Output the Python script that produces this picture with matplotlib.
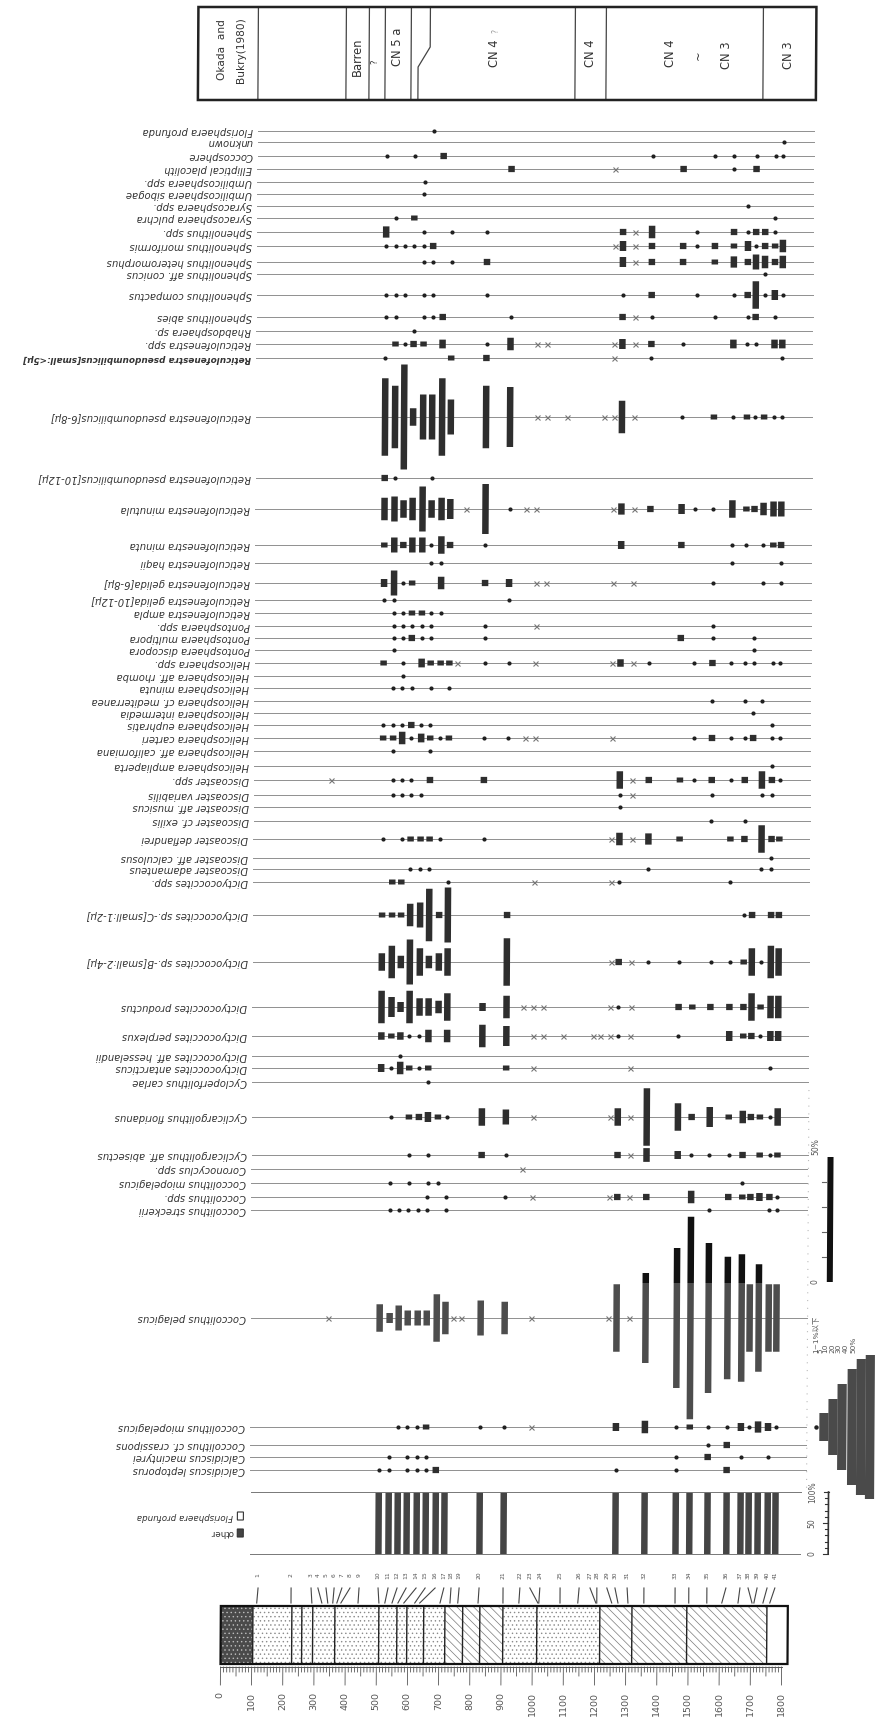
import numpy as np
import matplotlib
matplotlib.use("Agg")
import matplotlib.pyplot as plt
from matplotlib.patches import Rectangle
from matplotlib.transforms import Affine2D

# ------------------------------------------------------------------ data
sample_ids = list(range(1, 42))
# plotting position of every sample column (m, as spread out on the chart)
sample_pos_m = [119, 225, 289, 311, 337, 363, 388, 414, 443, 504,
                536, 565, 594, 626, 655, 687, 715, 738, 764, 828,
                905, 959, 991, 1023, 1088, 1149, 1184, 1206, 1238, 1264,
                1303, 1357, 1457, 1501, 1559, 1620, 1665, 1691, 1720, 1752, 1777]
# true depth of every sample in the core (m)
sample_depth_m = [115, 225, 292, 324, 343, 359, 372, 385, 440, 507,
                  526, 549, 568, 587, 622, 638, 703, 735, 760, 825,
                  905, 956, 1017, 1020, 1088, 1145, 1203, 1206, 1254, 1274,
                  1306, 1357, 1457, 1501, 1559, 1607, 1659, 1704, 1710, 1739, 1761]

species = [
    "Florisphaera profunda", "unknown", "Coccosphere", "Elliptical placolith",
    "Umbilicosphaera spp.", "Umbilicosphaera sibogae", "Syracosphaera spp.",
    "Syracosphaera pulchra", "Sphenolithus spp.", "Sphenolithus moriformis",
    "Sphenolithus heteromorphus", "Sphenolithus aff. conicus", "Sphenolithus compactus",
    "Sphenolithus abies", "Rhabdosphaera sp.", "Reticulofenestra spp.",
    "Reticulofenestra pseudoumbilicus[small:<5μ]", "Reticulofenestra pseudoumbilicus[6-8μ]",
    "Reticulofenestra pseudoumbilicus[10-12μ]", "Reticulofenestra minutula",
    "Reticulofenestra minuta", "Reticulofenestra haqii", "Reticulofenestra gelida[6-8μ]",
    "Reticulofenestra gelida[10-12μ]", "Reticulofenestra ampla", "Pontosphaera spp.",
    "Pontosphaera multipora", "Pontosphaera discopora", "Helicosphaera spp.",
    "Helicosphaera aff. rhomba", "Helicosphaera minuta", "Helicosphaera cf. mediterranea",
    "Helicosphaera intermedia", "Helicosphaera euphratis", "Helicosphaera carteri",
    "Helicosphaera aff. californiana", "Helicosphaera ampliaperta", "Discoaster spp.",
    "Discoaster variabilis", "Discoaster aff. musicus", "Discoaster cf. exilis",
    "Discoaster deflandrei", "Discoaster aff. calculosus", "Discoaster adamanteus",
    "Dictyococcites spp.", "Dictyococcites sp.-C[small:1-2μ]", "Dictyococcites sp.-B[small:2-4μ]",
    "Dictyococcites productus", "Dictyococcites perplexus", "Dictyococcites aff. hesselandii",
    "Dictyococcites antarcticus", "Cycloperfolithus carlae", "Cyclicargolithus floridanus",
    "Cyclicargolithus aff. abisectus", "Coronocyclus spp.", "Coccolithus miopelagicus",
    "Coccolithus spp.", "Coccolithus streckerii", "Coccolithus pelagicus",
    "Coccolithus miopelagicus", "Coccolithus cf. crassipons", "Calcidiscus macintyrei",
    "Calcidiscus leptoporus",
]
bold_species = {"Reticulofenestra pseudoumbilicus[small:<5μ]"}

# occurrences  sample:abundance   x = questionable / reworked, d = <=1 %, number = %
occurrences = [
    "15:d",
    "41:d",
    "10:d 13:d 16:2.5 32:d 35:d 36:d 38:d 40:d 41:d",
    "21:2.5 29:x 33:2.5 36:d 38:2.5",
    "14:d",
    "14:d",
    "37:d",
    "11:d 13:2 40:d",
    "10:4.5 14:d 17:d 20:d 30:2.5 31:x 32:5 34:d 36:2.5 37:d 38:2.5 39:2.5 40:d",
    "10:d 11:d 12:d 13:d 14:d 15:2.5 29:x 30:4 31:x 32:2.5 33:2.5 34:d 35:2.5 36:2 37:4 38:d 39:2.5 40:2 41:5",
    "14:d 15:d 17:d 20:2.5 30:4 31:x 32:2.5 33:2.5 35:2 36:4.5 37:2.5 38:6 39:5 40:2.5 41:5",
    "39:d",
    "10:d 11:d 12:d 14:d 15:d 20:d 30:d 32:2.5 34:d 36:d 37:2.5 38:11 39:d 40:4 41:d",
    "10:d 11:d 14:d 15:d 16:2.5 21:d 30:2.5 31:x 32:d 35:d 37:d 38:2.5 40:d",
    "13:d",
    "11:2 12:d 13:2.5 14:2 16:3.5 20:d 21:5 23:x 24:x 29:x 30:4 31:x 32:2.5 33:d 36:3.5 37:d 38:d 40:3.5 41:3.5",
    "10:d 17:2 20:2.5 29:x 32:d 41:d",
    "10:31 11:25 12:42 13:7 14:18 15:18 16:31 17:14 20:25 21:24 23:x 24:x 25:x 28:x 29:x 30:13 31:x 33:d 35:2 36:d 37:2 38:d 39:2 40:d 41:d",
    "10:2.5 11:d 15:d",
    "10:9 11:10 12:7 13:9 14:18 15:7 16:9 17:8 19:x 20:20 21:d 22:x 23:x 29:x 30:4.5 31:x 32:2.5 33:4 34:d 35:d 36:7 37:2 38:2.5 39:5 40:6 41:6",
    "10:2 11:6 12:2.5 13:6 14:6 15:d 16:7 17:2.5 20:d 30:3.2 33:2.5 36:d 37:d 39:d 40:2 41:2.5",
    "15:d 16:d 36:d 41:d",
    "10:3.2 11:10 12:d 13:2 16:5 20:2.5 21:3.2 23:x 24:x 29:x 31:x 35:d 39:d 41:d",
    "10:d 11:d 21:d",
    "11:d 12:d 13:2 14:2 15:d 16:d",
    "11:d 12:d 13:d 14:d 15:d 20:d 23:x 35:d",
    "11:d 12:d 13:2.5 14:d 15:d 20:d 33:2.5 35:d 38:d",
    "11:d 38:d",
    "10:2 12:d 14:3.5 15:2 16:2 17:2 18:x 20:d 21:d 23:x 29:x 30:3 31:x 32:d 34:d 35:2.5 36:d 37:d 38:d 40:d 41:d",
    "12:d",
    "11:d 12:d 13:d 15:d 17:d",
    "35:d 37:d 39:d",
    "38:d",
    "10:d 11:d 12:d 13:2.5 14:d 15:d 40:d",
    "10:2 11:2 12:5 13:d 14:3.5 15:2 16:d 17:2 20:d 21:d 22:x 23:x 29:x 34:d 35:2.5 36:d 37:d 38:2.5 40:d 41:d",
    "11:d 15:d",
    "40:d",
    "5:x 11:d 12:d 13:d 15:2.5 20:2.5 30:7 31:x 32:2.5 33:2 34:d 35:2.5 36:d 37:2.5 39:7 40:2.5 41:d",
    "11:d 12:d 13:d 14:d 30:d 31:x 35:d 39:d 40:d",
    "30:d",
    "35:d 37:d",
    "10:d 12:d 13:2 14:2 15:2 16:d 20:d 29:x 30:5 31:x 32:4.5 33:2 36:2 37:2.5 39:11 40:2.5 41:2",
    "40:d",
    "13:d 14:d 15:d 32:d 39:d 40:d",
    "11:2 12:2 17:d 23:x 29:x 30:d 36:d",
    "10:2 11:2 12:2 13:9 14:10 15:21 16:2.5 17:22 21:2.5 37:d 38:2.5 40:2.5 41:2.5",
    "10:7 11:13 12:5 13:18 14:11 15:5 16:7 17:11 21:19 29:x 30:2.5 31:x 32:d 33:d 35:d 36:d 37:2 38:11 39:d 40:13 41:11",
    "10:13 11:8 12:4 13:13 14:7 15:7 16:5 17:11 20:3.2 21:9 22:x 23:x 24:x 29:x 30:d 31:x 33:2.5 34:2 35:2.5 36:2.5 37:2.5 38:11 39:2 40:9 41:9",
    "10:3 11:2 12:3 13:d 14:d 15:5 17:5 20:9 21:8 23:x 24:x 25:x 27:x 28:x 29:x 30:d 31:x 33:d 36:4 37:2 38:2.5 39:d 40:4 41:4",
    "12:d",
    "10:3.2 11:d 12:5 13:2 14:d 15:2 21:2 23:x 31:x 40:d",
    "15:d",
    "11:d 13:2 14:2.5 15:4 16:2 17:d 20:7 21:6 23:x 29:x 30:7 31:x 32:23 33:11 34:2.5 35:8 36:2 37:5 38:2.5 39:2 40:d 41:7",
    "13:d 15:d 20:2.5 21:d 30:2.5 31:x 32:5.5 33:3.2 34:d 35:d 36:d 37:2.5 39:2 40:d 41:2",
    "22:x",
    "11:d 13:d 15:d 16:d 37:d",
    "15:d 17:d 21:d 23:x 29:x 30:2.5 31:x 32:2.5 34:5 36:2.5 37:2 38:2.5 39:3.2 40:2.5 41:d",
    "11:d 12:d 13:d 14:d 15:d 17:d 35:d 40:d 41:d",
    "5:x 10:11 11:4 12:10 13:6 14:6 15:6 16:19 17:13 18:x 19:x 20:14 21:13 23:x 29:x 30:27 31:x 32:36 33:56 34:81 35:60 36:49 37:51 38:27 39:43 40:27 41:27",
    "12:d 13:d 14:d 15:2 20:d 21:d 23:x 30:3.2 32:5 33:d 34:2 35:d 36:d 37:3.2 38:d 39:4.5 40:3.2 41:d",
    "35:d 36:2.5",
    "11:d 13:d 14:d 15:d 33:d 35:2.5 37:d 40:d",
    "10:d 11:d 13:d 14:d 15:d 16:2.5 30:d 33:d 36:2.5",
]

# share of "other" vs Florisphaera profunda (%)
other_samples = [10, 11, 12, 13, 14, 15, 16, 17, 20, 21, 30, 32, 33, 34, 35, 36, 37, 38, 39, 40, 41]
other_pct = [100] * len(other_samples)

# lithology units (m) and their kind
litho_bounds = [0, 103, 228, 260, 295, 366, 507, 565, 597, 651, 719, 776, 831, 905,
                1014, 1216, 1319, 1495, 1752, 1819]
litho_kind = ["gravel", "sand", "sand", "sand", "sand", "sand", "sand", "sand", "sand",
              "sand", "mud", "mud", "mud", "sand", "sand", "mud", "mud", "mud", "none"]
depth_ticks = list(range(0, 1801, 100))

# zonation (Okada and Bukry, 1980)
zone_labels = ["Barren", "?", "CN 5 a", "CN 4", "CN 4", "CN 4", "~", "CN 3", "CN 3"]
legend_labels = ["1~1%以下", "5", "10", "20", "30", "40", "50%"]

assert len(species) == len(occurrences)

# ------------------------------------------------------------------ layout
row_y = [131, 142, 156, 169, 182, 194, 206, 218, 232, 246, 262, 274, 295, 317, 331, 344,
         358, 417, 478, 509, 545, 563, 583, 600, 613, 626, 638, 650, 663, 676, 688, 701,
         713, 725, 738, 751, 766, 780, 795, 807, 821, 839, 858, 869, 882, 915, 962, 1007,
         1036, 1056, 1068, 1082, 1117, 1155, 1169, 1183, 1197, 1210, 1318, 1427, 1445,
         1457, 1470]
assert len(row_y) == len(species)

W, H = 876, 1725
fig = plt.figure(figsize=(W / 100, H / 100), dpi=100)
ax = fig.add_axes([0, 0, 1, 1])
ax.set_axis_off()
ax.set_autoscale_on(False)
PX0, PXM = 221.0, 0.3117          # pixel of depth 0, pixels per metre


def D(px):
    return (px - PX0) / PXM


ax.set_xlim(D(0), D(W))
ax.set_ylim(H, 0)
K = 0.006                          # slight skew of the scanned sheet
T = ax.transData + Affine2D().skew(np.arctan(K), 0).translate(-K * 145, 0)
plt.rcParams["hatch.linewidth"] = 0.5

pos = dict(zip(sample_ids, sample_pos_m))
dep = dict(zip(sample_ids, sample_depth_m))
BW = 6.5 / PXM                     # bar width (m)
PCT_PX = 2.5                       # bar length in px per percent
TXT = "#333333"

# ------------------------------------------------------------------ zone box
ZT, ZB = 7, 100
ax.add_patch(Rectangle((D(189), ZT), D(807) - D(189), ZB - ZT, fill=False, lw=1.8,
                       ec="#222222", transform=T, zorder=5))
for px in [249, 337, 360, 376, 402, 566, 597, 754]:
    ax.plot([D(px), D(px)], [ZT, ZB], color="#444444", lw=0.9, transform=T)
ax.plot([D(421), D(421), D(409), D(409)], [ZT, 47, 67, ZB], color="#444444", lw=0.9,
        transform=T)
zk = dict(rotation=90, ha="center", va="center", fontsize=8.3, color=TXT, transform=T)
ax.text(D(213), 50, "Okada  and", **dict(zk, fontsize=7.6))
ax.text(D(232), 50, "Bukry(1980)", **dict(zk, fontsize=7.6))
zone_x = [348, 366, 388, 485, 581, 661, 689, 717, 779]
zone_yc = [57, 62, 47, 53, 53, 53, 55, 55, 55]
for lab, px, yc in zip(zone_labels, zone_x, zone_yc):
    kw = dict(zk)
    if lab == "?":
        kw["fontsize"] = 6
    ax.text(D(px), yc, lab, **kw)
ax.text(D(487), 31, "?", rotation=90, ha="center", va="center", fontsize=5.5,
        color="#999999", transform=T)

# ------------------------------------------------------------------ species chart
for name, yy, occ in zip(species, row_y, occurrences):
    ax.plot([D(249), D(805)], [yy, yy], color="#8f8f8f", lw=0.7, transform=T, zorder=1)
    isb = name in bold_species
    ax.text(D(244), yy, name, rotation=180, ha="right", va="center",
            fontsize=6.4 if isb else 7.2, style="italic",
            fontweight="bold" if isb else "normal", color=TXT, transform=T)
    pel = name == "Coccolithus pelagicus"
    for tok in occ.split():
        s, v = tok.split(":")
        xp = pos[int(s)]
        if v == "x":
            ax.plot(xp, yy, marker="x", ms=3.6, mew=0.8, color="#777777", transform=T,
                    zorder=3)
        elif v == "d":
            ax.plot(xp, yy, marker="o", ms=3.0, color="#202020", mec="none",
                    transform=T, zorder=3)
        else:
            h = float(v) * PCT_PX
            top, bot = yy - h / 2, yy + h / 2
            col = "#4d4d4d" if pel else "#2e2e2e"
            if pel and top < 1283:
                ax.add_patch(Rectangle((xp - BW / 2, top), BW, 1283 - top, fc="#111111",
                                       ec="none", transform=T, zorder=3))
                top = 1283
            ax.add_patch(Rectangle((xp - BW / 2, top), BW, bot - top, fc=col, ec="none",
                                   transform=T, zorder=3))

# faint dotted guide at right edge
ax.plot([D(806), D(806)], [1090, 1488], color="#bbbbbb", lw=0.8, ls=(0, (1, 6)),
        transform=T)

# pelagicus scale bar (0-50 %)
sb_bot, sb_top = 1282, 1282 - 50 * PCT_PX
ax.add_patch(Rectangle((D(825), sb_top), D(831) - D(825), sb_bot - sb_top, fc="#111111",
                       ec="none", transform=T))
for p in range(10, 50, 10):
    yy = sb_bot - p * PCT_PX
    ax.plot([D(820), D(824)], [yy, yy], color="#666666", lw=0.8, transform=T)
ax.text(D(813), sb_top - 2, "50%", rotation=90, ha="center", va="bottom", fontsize=5.5,
        color="#555555", transform=T)
ax.text(D(813), sb_bot, "0", rotation=90, ha="center", va="center", fontsize=5.5,
        color="#555555", transform=T)

# abundance key (triangle)
LY = 1427
ax.plot(D(815), LY, marker="o", ms=3.2, color="#222222", mec="none", transform=T)
key_half = [14, 28, 43, 58, 68, 72]
key_x = [823, 832, 841, 851, 860, 869]
for hx, hh in zip(key_x, key_half):
    ax.add_patch(Rectangle((D(hx - 4.6), LY - hh), D(hx + 4.6) - D(hx - 4.6), 2 * hh,
                           fc="#4a4a4a", ec="none", transform=T))
lab_x = [814, 819, 824, 831, 837, 844, 852]
for lab, lx in zip(legend_labels, lab_x):
    ax.text(D(lx), 1353, lab, rotation=90, ha="center", va="bottom", fontsize=5.3,
            color="#555555", family=["DejaVu Sans", "Noto Sans CJK JP"], transform=T)

# ------------------------------------------------------------------ other / Florisphaera panel
PT, PB = 1492, 1554
for yy in (PT, PB):
    ax.plot([D(250), D(800)], [yy, yy], color="#777777", lw=0.7, transform=T)
for s, p in zip(other_samples, other_pct):
    ax.add_patch(Rectangle((pos[s] - BW / 2 + 0.5, PB - (PB - PT) * p / 100), BW,
                           (PB - PT) * p / 100, fc="#444444", ec="none", transform=T))
ax.plot([D(828), D(828)], [PT, PB], color="#333333", lw=1.2, transform=T)
for p in range(0, 101, 10):
    yy = PB - (PB - PT) * p / 100
    ln = 5 if p % 50 == 0 else 3
    ax.plot([D(828 - ln), D(828)], [yy, yy], color="#333333", lw=0.8, transform=T)
for p, lab in [(0, "0"), (50, "50"), (100, "100%")]:
    ax.text(D(812), PB - (PB - PT) * p / 100, lab, rotation=90, ha="center", va="center",
            fontsize=5.5, color="#555555", transform=T)
# legend
ax.add_patch(Rectangle((D(237), 1512), D(243) - D(237), 8, fc="white", ec="#333333", lw=0.8,
                       transform=T))
ax.add_patch(Rectangle((D(237), 1529), D(243) - D(237), 8, fc="#444444", ec="#333333",
                       lw=0.8, transform=T))
ax.text(D(233), 1516, "Florisphaera profunda", rotation=180, ha="right", va="center",
        fontsize=6.3, style="italic", color=TXT, transform=T)
ax.text(D(233), 1533, "other", rotation=180, ha="right", va="center", fontsize=6.3,
        color=TXT, transform=T)

# ------------------------------------------------------------------ sample numbers & ties
for s in sample_ids:
    ax.text(pos[s], 1575, str(s), rotation=90, ha="center", va="center", fontsize=4.3,
            color="#555555", transform=T)
    ax.plot([pos[s], dep[s]], [1588, 1603], color="#444444", lw=0.8, transform=T)

# ------------------------------------------------------------------ lithology column
LT, LB = 1606, 1664
styles = {
    "gravel": dict(fc="#4a4a4a", ec="#bdbdbd", hatch="...."),
    "sand": dict(fc="white", ec="#8a8a8a", hatch="...."),
    "mud": dict(fc="white", ec="#7a7a7a", hatch="\\\\\\\\"),
    "none": dict(fc="white", ec="white", hatch=None),
}
for a, b, kind in zip(litho_bounds[:-1], litho_bounds[1:], litho_kind):
    st = styles[kind]
    ax.add_patch(Rectangle((a, LT), b - a, LB - LT, fc=st["fc"], ec=st["ec"], lw=0,
                           hatch=st["hatch"], transform=T, zorder=2))
for b in litho_bounds[1:-1]:
    ax.plot([b, b], [LT, LB], color="#222222", lw=1.0, transform=T, zorder=3)
ax.add_patch(Rectangle((litho_bounds[0], LT), litho_bounds[-1] - litho_bounds[0], LB - LT,
                       fill=False, ec="#111111", lw=1.6, transform=T, zorder=4))

# depth ruler
ax.plot([0, 1800], [1667, 1667], color="#555555", lw=0.7, transform=T)
for m in range(0, 1801, 10):
    ln = 18 if m % 100 == 0 else (9 if m % 50 == 0 else 5)
    ax.plot([m, m], [1667, 1667 + ln], color="#555555", lw=0.6, transform=T)
for m in depth_ticks:
    ax.text(m, 1692, str(m), rotation=90, ha="center", va="top", fontsize=6.8,
            color="#555555", transform=T)

fig.savefig("out.png", dpi=100)
